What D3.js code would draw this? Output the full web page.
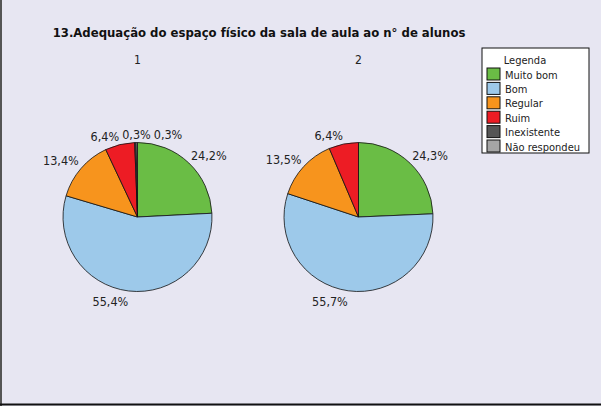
<!DOCTYPE html>
<html>
<head>
<meta charset="utf-8">
<title>Adequação do espaço físico</title>
<script src="https://d3js.org/d3.v7.min.js"></script>
<style>
  body { margin: 0; }
  svg { display: block; font-family: "DejaVu Sans Condensed", "DejaVu Sans", sans-serif; }
</style>
</head>
<body>
<script>
// dados
var categorias = ["Muito bom", "Bom", "Regular", "Ruim", "Inexistente", "Não respondeu"];
var cores = ["#6abd45", "#9dc9ea", "#f7941d", "#ed1c24", "#555555", "#a5a5a5"];
var serie1 = [24.2, 55.4, 13.4, 6.4, 0.3, 0.3];
var serie2 = [24.3, 55.7, 13.5, 6.4, 0, 0];
var rotulos = ["1", "2"];
var titulo = "13.Adequação do espaço físico da sala de aula ao n° de alunos";

var W = 601, H = 406;
var svg = d3.select("body").append("svg").attr("width", W).attr("height", H);

svg.append("rect").attr("width", W).attr("height", H).attr("fill", "#e7e6f2");
// bordas esquerda e inferior
svg.append("line").attr("x1", 1).attr("x2", 1).attr("y1", 0).attr("y2", H)
   .attr("stroke", "#555").attr("stroke-width", 2);
svg.append("line").attr("x1", 0).attr("x2", W).attr("y1", H - 1.5).attr("y2", H - 1.5)
   .attr("stroke", "#111").attr("stroke-width", 2);

// titulo, ajustado a largura do original
var t = svg.append("text").attr("x", 259).attr("y", 37)
   .attr("text-anchor", "middle").attr("font-weight", "bold")
   .attr("font-size", 16).attr("fill", "#111").text(titulo);
var tw = t.node().getComputedTextLength();
t.attr("font-size", 16 * 413 / tw);

var color = d3.scaleOrdinal().domain(categorias).range(cores);
var x = d3.scalePoint().domain(rotulos).range([137.5, 358.5]);
var cy = 217, r = 74.5;

var pie = d3.pie().sort(null).value(function(d) { return d.v; });
var arc = d3.arc().innerRadius(0).outerRadius(r);

[serie1, serie2].forEach(function(serie, i) {
  var dados = categorias.map(function(c, j) { return { c: c, v: serie[j] }; });
  var g = svg.append("g").attr("transform", "translate(" + x(rotulos[i]) + "," + cy + ")");

  svg.append("text").attr("x", x(rotulos[i])).attr("y", 64)
     .attr("text-anchor", "middle").attr("font-size", 12).attr("fill", "#222")
     .text(rotulos[i]);

  var arcos = pie(dados).filter(function(d) { return d.data.v > 0; });

  g.selectAll("path").data(arcos).enter().append("path")
   .attr("d", arc)
   .attr("fill", function(d) { return color(d.data.c); })
   .attr("stroke", "#111").attr("stroke-width", 0.8);

  // rotulos estilo excel: canto da caixa encostado num ponto fora do circulo
  var labs = g.selectAll("text.lab").data(arcos).enter().append("text")
   .attr("class", "lab").attr("font-size", 12.5).attr("fill", "#222")
   .text(function(d) { return d.data.v.toFixed(1).replace(".", ",") + "%"; });

  var caixas = [];
  labs.each(function(d) {
    var a = (d.startAngle + d.endAngle) / 2;
    var px = (r + 3) * Math.sin(a), py = -(r + 3) * Math.cos(a);
    var w = this.getComputedTextLength(), h = 13;
    var s = Math.sin(a), c = Math.cos(a);
    var x0 = Math.abs(s) < 0.1 ? px - w / 2 : (s > 0 ? px : px - w);
    var y0 = c > 0 ? py - h : py;
    caixas.push({ node: this, x0: x0, y0: y0, w: w, h: h });
  });

  // separar caixas sobrepostas na mesma linha (varredura da esquerda p/ direita)
  caixas.sort(function(a, b) { return a.x0 - b.x0; });
  for (var k = 1; k < caixas.length; k++) {
    var q = caixas[k];
    for (var m = 0; m < k; m++) {
      var p = caixas[m];
      if (Math.abs(p.y0 - q.y0) < p.h && q.x0 < p.x0 + p.w + 3 && q.x0 + q.w > p.x0) {
        q.x0 = p.x0 + p.w + 3;
      }
    }
  }
  caixas.forEach(function(b) {
    d3.select(b.node).attr("x", b.x0).attr("y", b.y0 + b.h - 1);
  });
});

// legenda
var leg = svg.append("g").attr("transform", "translate(482,48)");
leg.append("rect").attr("width", 107).attr("height", 105)
   .attr("fill", "#fff").attr("stroke", "#111");
leg.append("text").attr("x", 43).attr("y", 16).attr("text-anchor", "middle")
   .attr("font-size", 11).attr("fill", "#222").text("Legenda");
var itens = leg.selectAll("g.item").data(categorias).enter().append("g")
   .attr("class", "item")
   .attr("transform", function(d, i) { return "translate(5," + (20 + i * 14.4) + ")"; });
itens.append("rect").attr("width", 13).attr("height", 12)
   .attr("fill", function(d) { return color(d); }).attr("stroke", "#111");
itens.append("text").attr("x", 18).attr("y", 10.5)
   .attr("font-size", 11).attr("fill", "#222").text(function(d) { return d; });
</script>
</body>
</html>
